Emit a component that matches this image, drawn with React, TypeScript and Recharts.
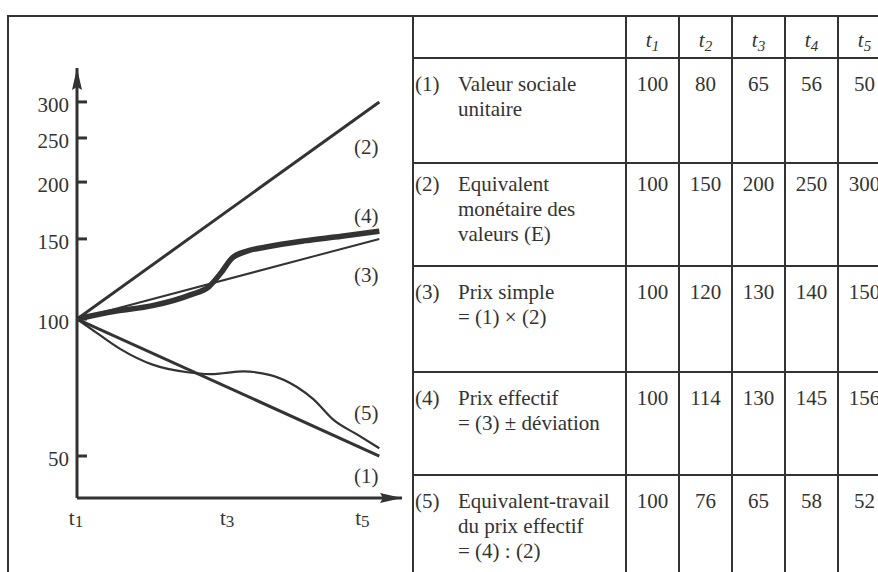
import React from "react";
import { LineChart, Line, XAxis, YAxis } from "recharts";

const INK = "#333";
const SERIF = "'Liberation Serif', serif";

// ---- table on the right ----
const periods = ["1", "2", "3", "4", "5"];
const rowNumbers = ["(1)", "(2)", "(3)", "(4)", "(5)"];
const rowLabels = [
  ["Valeur sociale", "unitaire"],
  ["Equivalent", "monétaire des", "valeurs (E)"],
  ["Prix simple", "= (1) × (2)"],
  ["Prix effectif", "= (3) ± déviation"],
  ["Equivalent-travail", "du prix effectif", "= (4) : (2)"],
];
const valeurSociale = [100, 80, 65, 56, 50];
const equivalentMonetaire = [100, 150, 200, 250, 300];
const prixSimple = [100, 120, 130, 140, 150];
const prixEffectif = [100, 114, 130, 145, 156];
const equivalentTravail = [100, 76, 65, 58, 52];
const tableRows = [valeurSociale, equivalentMonetaire, prixSimple, prixEffectif, equivalentTravail];

// ---- sketch on the left ----
const xTicks = [1, 3, 5];
const yTicks = [50, 100, 150, 200, 250, 300];

const line1T = [1, 5];
const line1V = [100, 50];
const line2T = [1, 5];
const line2V = [100, 300];
const line3T = [1, 5];
const line3V = [100, 150];
const line4T = [1, 1.5, 2, 2.5, 2.75, 2.9, 3.05, 3.25, 3.5, 4, 4.5, 5];
const line4V = [100, 104, 107, 113, 118, 126, 136, 141, 144, 148.5, 152, 156];
const line5T = [1, 1.27, 1.57, 2, 2.46, 2.76, 2.93, 3.2, 3.56, 3.91, 4.13, 4.39, 4.71, 5];
const line5V = [100, 93, 86, 79.4, 76.4, 75.7, 76, 76.7, 75.3, 70.9, 66.6, 60.1, 55.7, 52];

const toData = (t: number[], v: number[]) => t.map((x, i) => ({ t: x, v: v[i] }));

const series = [
  { name: "(2)", data: toData(line2T, line2V), width: 3, type: "linear", labelDy: 45 },
  { name: "(3)", data: toData(line3T, line3V), width: 2, type: "linear", labelDy: 36 },
  { name: "(1)", data: toData(line1T, line1V), width: 3, type: "linear", labelDy: 20 },
  { name: "(5)", data: toData(line5T, line5V), width: 2.2, type: "monotone", labelDy: -35 },
  { name: "(4)", data: toData(line4T, line4V), width: 5.5, type: "monotone", labelDy: -15 },
];

const YTick = (props: any) => {
  const { x, y, payload } = props;
  return (
    <g>
      <line x1={x + 8} x2={x + 18} y1={y} y2={y} stroke={INK} strokeWidth={3} />
      <text x={x} y={y + 10} textAnchor="end" fontFamily={SERIF} fontSize={21} fill={INK}>
        {payload.value}
      </text>
    </g>
  );
};

const XTick = (props: any) => {
  const { x, y, payload } = props;
  const shift = payload.value === 5 ? -17 : -1;
  return (
    <text x={x + shift} y={y + 27} textAnchor="middle" fontFamily={SERIF} fontSize={21} fill={INK}>
      <tspan>t</tspan>
      <tspan fontSize={17} dy={2}>
        {payload.value}
      </tspan>
    </text>
  );
};

const endLabel = (name: string, last: number, dy: number) => (props: any) => {
  const { cx, cy, index } = props;
  if (index !== last) return <g key={`d-${name}-${index}`} />;
  return (
    <text
      key={`d-${name}-${index}`}
      x={cx - 13}
      y={cy + dy}
      textAnchor="middle"
      dominantBaseline="central"
      fontFamily={SERIF}
      fontSize={21}
      fill={INK}
    >
      {name}
    </text>
  );
};

const cellBase: React.CSSProperties = {
  boxSizing: "border-box",
  borderRight: `2px solid ${INK}`,
  borderBottom: `2px solid ${INK}`,
  fontFamily: SERIF,
  fontSize: 21,
  lineHeight: "25px",
  color: INK,
};

export default function App() {
  return (
    <div
      style={{
        position: "absolute",
        left: 0,
        top: 0,
        width: 878,
        height: 572,
        overflow: "hidden",
        background: "#fff",
        fontFamily: SERIF,
      }}
    >
      <svg width={0} height={0} style={{ position: "absolute" }}>
        <defs>
          <marker
            id="arrow"
            viewBox="0 0 22 10"
            refX={22}
            refY={5}
            markerWidth={22}
            markerHeight={10}
            markerUnits="userSpaceOnUse"
            orient="auto-start-reverse"
          >
            <path d="M0,0 L22,5 L0,10 L3,5 Z" fill={INK} />
          </marker>
        </defs>
      </svg>

      {/* outer frame of the chart cell */}
      <div
        style={{
          position: "absolute",
          left: 7,
          top: 15,
          width: 410,
          height: 600,
          borderLeft: `2px solid ${INK}`,
          borderTop: `2px solid ${INK}`,
        }}
      />

      <div style={{ position: "absolute", left: 0, top: 0 }}>
        <LineChart width={412} height={572} margin={{ top: 68, right: 10, bottom: 34, left: 17 }}>
          <XAxis
            type="number"
            dataKey="t"
            domain={[1, 5.3]}
            allowDataOverflow
            ticks={xTicks}
            tickLine={false}
            tickSize={0}
            tickMargin={0}
            height={40}
            axisLine={{ stroke: INK, strokeWidth: 3, markerEnd: "url(#arrow)" }}
            tick={<XTick />}
          />
          <YAxis
            type="number"
            scale="log"
            domain={[40.43, 356.2]}
            allowDataOverflow
            ticks={yTicks}
            tickLine={false}
            tickSize={0}
            tickMargin={8}
            width={60}
            axisLine={{ stroke: INK, strokeWidth: 3, markerStart: "url(#arrow)" }}
            tick={<YTick />}
          />
          {series.map((s) => (
            <Line
              key={s.name}
              data={s.data}
              dataKey="v"
              type={s.type as any}
              stroke={INK}
              strokeWidth={s.width}
              dot={endLabel(s.name, s.data.length - 1, s.labelDy)}
              activeDot={false}
              isAnimationActive={false}
            />
          ))}
        </LineChart>
      </div>

      {/* data table */}
      <div
        style={{
          position: "absolute",
          left: 412,
          top: 15,
          display: "grid",
          gridTemplateColumns: "213px repeat(5, 53px)",
          gridTemplateRows: "42px 105px 103px 106px 103px 110px",
          borderLeft: `2px solid ${INK}`,
          borderTop: `2px solid ${INK}`,
        }}
      >
        <div style={cellBase} />
        {periods.map((p) => (
          <div key={p} style={{ ...cellBase, textAlign: "center", paddingTop: 11, fontStyle: "italic" }}>
            t
            <span style={{ fontSize: 15, position: "relative", top: 4 }}>{p}</span>
          </div>
        ))}
        {tableRows.map((vals, r) => {
          const pad = r === 1 ? 8 : 13;
          return (
            <React.Fragment key={r}>
              <div style={{ ...cellBase, paddingTop: pad, paddingLeft: 1, display: "flex" }}>
                <span style={{ width: 43, flexShrink: 0 }}>{rowNumbers[r]}</span>
                <span>
                  {rowLabels[r].map((l, i) => (
                    <div key={i} style={{ whiteSpace: "nowrap" }}>
                      {l}
                    </div>
                  ))}
                </span>
              </div>
              {vals.map((v, c) => (
                <div key={c} style={{ ...cellBase, paddingTop: pad, textAlign: "center" }}>
                  {v}
                </div>
              ))}
            </React.Fragment>
          );
        })}
      </div>
    </div>
  );
}
